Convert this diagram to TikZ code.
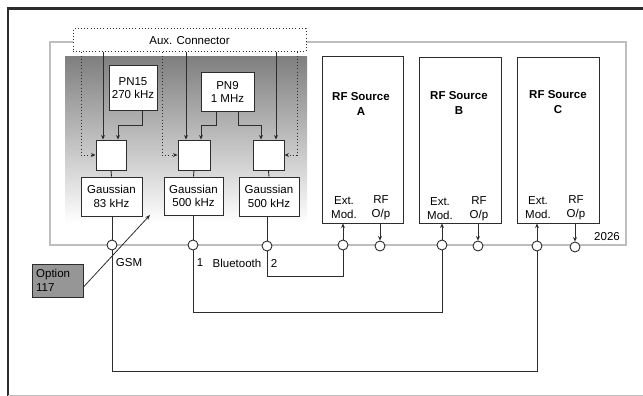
\documentclass[tikz,border=0pt]{standalone}
\usepackage{fontspec}
\setmainfont{Liberation Sans}
\usetikzlibrary{arrows.meta,calc}
\definecolor{framegray}{RGB}{190,190,192}
\definecolor{shade}{RGB}{184,184,186}
\definecolor{optgray}{RGB}{150,150,150}
\definecolor{ink}{RGB}{45,45,45}
\begin{document}
\begin{tikzpicture}[x=1pt,y=-1pt,
  font=\fontsize{11.5}{13.5}\selectfont,
  box/.style={draw=ink,line width=1pt,fill=white,inner sep=0pt,align=center},
  port/.style={circle,draw=ink,line width=0.9pt,fill=white,minimum size=10pt,inner sep=0pt},
  wire/.style={draw=ink,line width=0.9pt},
  arr/.style={wire,-{Stealth[length=4.5pt,width=4pt]}},
  dots/.style={draw=ink,line width=1pt,dash pattern=on 1pt off 2.2pt},
  darr/.style={dots,-{Stealth[length=4.5pt,width=4pt]}},
  lbl/.style={inner sep=0pt,align=center}]
\useasboundingbox (0,0) rectangle (643,396);
% outer frame
\draw[ink,line width=2.5pt] (8,396) -- (8,8.5) -- (643,8.5);
\draw[framegray,line width=1pt] (8,395.5) -- (643,395.5);
% 2026 frame
\draw[framegray,line width=2pt] (50,42) rectangle (626,245);
% shaded area
\fill[shade] (65,57) rectangle (307,223);
% aux connector
\node[dots,fill=white,minimum width=233pt,minimum height=23pt,inner sep=0pt] (aux) at (189.5,40.5) {Aux. Connector};
% generators
\node[box,minimum width=48pt,minimum height=44pt] (pn15) at (133,88) {PN15\\270 kHz};
\node[box,minimum width=53pt,minimum height=38pt] (pn9) at (227.5,92) {PN9\\1 MHz};
\node[box,minimum width=30pt,minimum height=30pt] (sq1) at (111,155) {};
\node[box,minimum width=32pt,minimum height=30pt] (sq2) at (194,155) {};
\node[box,minimum width=31pt,minimum height=30pt] (sq3) at (268.5,155) {};
\node[box,minimum width=61pt,minimum height=39pt] (g1) at (111.5,196.5) {Gaussian\\83 kHz};
\node[box,minimum width=59pt,minimum height=38pt] (g2) at (193.5,196) {Gaussian\\500 kHz};
\node[box,minimum width=60pt,minimum height=39pt] (g3) at (269,196.5) {Gaussian\\500 kHz};
% helper coordinates
\coordinate (x1) at (103,0);
\coordinate (x2) at (186,0);
\coordinate (x3) at (276,0);
\coordinate (p15a) at (142,125);
\coordinate (p15b) at (118,125);
\coordinate (p9a) at (216,125);
\coordinate (p9b) at (201,125);
\coordinate (p9c) at (238,125);
\coordinate (p9d) at (261,125);
\coordinate (d1) at (81,155);
\coordinate (d2) at (162,155);
\coordinate (d3) at (297,155);
% aux arrows
\draw[arr] (aux.south -| x1) -- (sq1.north -| x1);
\draw[arr] (aux.south -| x2) -- (sq2.north -| x2);
\draw[arr] (aux.south -| x3) -- (sq3.north -| x3);
% PN arrows
\draw[arr] (pn15.south -| p15a) -- (p15a) -- (p15b) -- (sq1.north -| p15b);
\draw[arr] (pn9.south -| p9a) -- (p9a) -- (p9b) -- (sq2.north -| p9b);
\draw[arr] (pn9.south -| p9c) -- (p9c) -- (p9d) -- (sq3.north -| p9d);
% dotted
\draw[darr] (aux.south -| d1) -- (d1) -- (sq1.west);
\draw[darr] (aux.south -| d2) -- (d2) -- (sq2.west);
\draw[darr] (aux.south -| d3) -- (d3) -- (sq3.east);
% square to gaussian
\draw[wire] (sq1.south) -- (g1.north);
\draw[wire] (sq2.south) -- (g2.north);
\draw[wire] (sq3.south) -- (g3.north);
% RF sources
\node[box,minimum width=81pt,minimum height=166pt] (rfa) at (362.5,140) {};
\node[box,minimum width=82pt,minimum height=165pt] (rfb) at (460,140.5) {};
\node[box,minimum width=82pt,minimum height=165pt] (rfc) at (558,140.5) {};
\node[lbl,font=\fontsize{11.5}{14.5}\selectfont\bfseries] (ta) at (361,104) {RF Source\\A};
\node[lbl,font=\fontsize{11.5}{14.5}\selectfont\bfseries] (tb) at (459,103) {RF Source\\B};
\node[lbl,font=\fontsize{11.5}{14.5}\selectfont\bfseries] (tc) at (558,102) {RF Source\\C};
\node[lbl,font=\fontsize{11.5}{14}\selectfont] (ema) at (344,208) {Ext.\\Mod.};
\node[lbl,font=\fontsize{11.5}{14}\selectfont] (rpa) at (381,208) {RF\\O/p};
\node[lbl,font=\fontsize{11.5}{14}\selectfont] (emb) at (440,208.5) {Ext.\\Mod.};
\node[lbl,font=\fontsize{11.5}{14}\selectfont] (rpb) at (479,208.5) {RF\\O/p};
\node[lbl,font=\fontsize{11.5}{14}\selectfont] (emc) at (538,207.5) {Ext.\\Mod.};
\node[lbl,font=\fontsize{11.5}{14}\selectfont] (rpc) at (576,207.5) {RF\\O/p};
% ports
\node[port] (gsm) at (112,245) {};
\node[port] (bt1) at (193,245) {};
\node[port] (bt2) at (267,246) {};
\node[port] (aext) at (343,245) {};
\node[port] (arf) at (380,246) {};
\node[port] (bext) at (442,245) {};
\node[port] (brf) at (478,246) {};
\node[port] (cext) at (537,246) {};
\node[port] (crf) at (575,247) {};
% gaussian to ports
\draw[wire] (g1.south -| gsm) -- (gsm.north);
\draw[wire] (g2.south -| bt1) -- (bt1.north);
\draw[wire] (g3.south -| bt2) -- (bt2.north);
% RF source arrows
\draw[arr] (aext.north) -- (rfa.south -| aext);
\draw[arr] (rfa.south -| arf) -- (arf.north);
\draw[arr] (bext.north) -- (rfb.south -| bext);
\draw[arr] (rfb.south -| brf) -- (brf.north);
\draw[arr] (cext.north) -- (rfc.south -| cext);
\draw[arr] (rfc.south -| crf) -- (crf.north);
% wires below
\coordinate (w1) at (0,276);
\coordinate (w2) at (0,312);
\coordinate (w3) at (0,371);
\draw[wire] (bt2.south) -- (bt2.south |- w1) -| (aext.south);
\draw[wire] (bt1.south) -- (bt1.south |- w2) -| (bext.south);
\draw[wire] (gsm.south) -- (gsm.south |- w3) -| (cext.south);
% labels
\node[lbl] (lgsm) at (129,263) {GSM};
\node[lbl] (l1) at (200,263) {1};
\node[lbl] (lbt) at (237,263) {Bluetooth};
\node[lbl] (l2) at (274,263) {2};
\node[lbl] (l2026) at (607,237) {2026};
% option 117
\node[draw=ink,line width=1pt,fill=optgray,minimum width=51pt,minimum height=33pt,inner sep=0pt] (opt) at (57.5,280.5) {};
\node[lbl,align=left,anchor=west,font=\fontsize{11.5}{14}\selectfont] (optt) at (36,280.5) {Option\\117};
\coordinate (optend) at (150,215);
\draw[wire,-{Stealth[length=5pt,width=4pt]},line width=0.8pt] ($(opt.east)+(0,6.5)$) -- (optend);
\end{tikzpicture}
\end{document}
